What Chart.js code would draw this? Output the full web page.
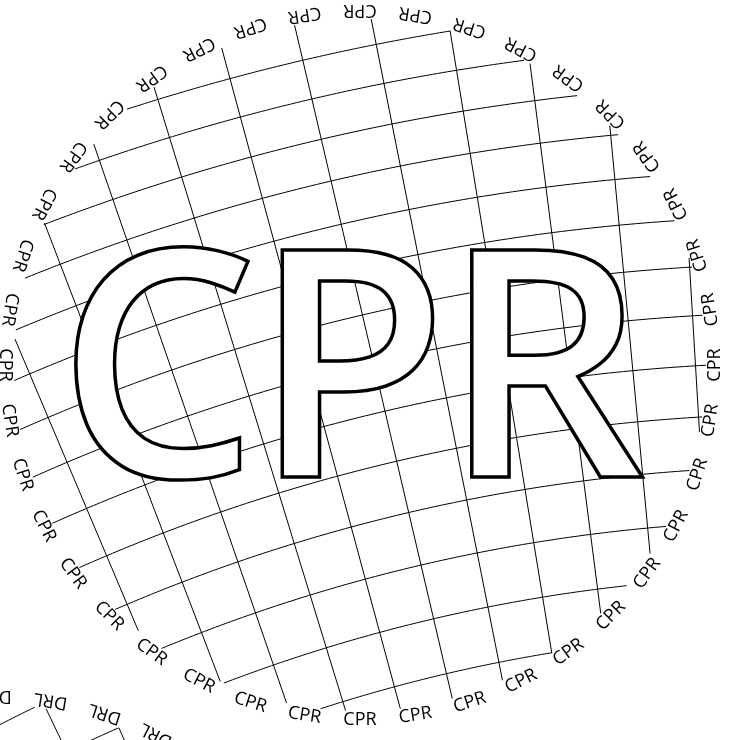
<!DOCTYPE html>
<html>
<head>
<meta charset="utf-8">
<script src="https://cdn.jsdelivr.net/npm/chart.js@4.4.1/dist/chart.umd.min.js"></script>
<style>
  html, body { margin: 0; padding: 0; background: #fff; }
  #wrap { width: 733px; height: 740px; }
</style>
</head>
<body>
<div id="wrap"><canvas id="chart" width="733" height="740"></canvas></div>
<script>
// graticule values (degrees)
const meridians = [1.48, 3.43, 5.38, 7.33, 9.28, 11.23, 13.18, 15.13, 17.08, 19.03, 20.98, 22.93, 24.88, 26.83];
const parallels = [31.78, 33.32, 34.86, 36.40, 37.94, 39.48, 41.02, 42.56, 44.10, 45.64, 47.18, 48.72, 50.26, 51.80, 53.34];
// label ring (degrees, screen angle)
const labelAngles = [0, 9, 18, 27, 36, 45, 54, 63, 72, 81, 90, 99, 108, 117, 126, 135, 144, 153, 162, 171,
                     180, 189, 198, 207, 216, 225, 234, 243, 252, 261, 270, 279, 288, 297, 306, 315, 324, 333, 342, 351];
const panels = ['CPR', 'DRL'];

// layout of each panel (plot units = pixels)
const geo = {
  CPR: { cx: 360, cy: 365, ax: 806, ay: 2209, rot: 0 },
  DRL: { cx: -5, cy: 1051, ax: 797, ay: 2274, rot: 0.75 }
};
const SPHERE = 2641, CLIP_R = 346, LABEL_R = 353.5;
const rad = d => d * Math.PI / 180;

function meridianLine(g, lon) {
  const th = rad(lon + g.rot);
  const ux = -Math.sin(th), uy = -Math.cos(th);
  const wx = g.cx - g.ax, wy = g.cy - g.ay;
  const b = ux * wx + uy * wy;
  const disc = b * b - (wx * wx + wy * wy - CLIP_R * CLIP_R);
  if (disc <= 0) return null;
  const s = Math.sqrt(disc);
  return [b - s, b + s].map(t => ({ x: g.ax + t * ux, y: g.ay + t * uy }));
}

function parallelLine(g, lat) {
  const r = SPHERE * Math.cos(rad(lat));
  const wx = g.cx - g.ax, wy = g.cy - g.ay;
  const d = Math.hypot(wx, wy);
  const c = (r * r + d * d - CLIP_R * CLIP_R) / (2 * r * d);
  if (c >= 1 || c <= -1) return null;
  const beta = Math.atan2(-wx, -wy), del = Math.acos(c);
  const pts = [];
  const n = 90;
  for (let i = 0; i <= n; i++) {
    const th = beta - del + 2 * del * i / n;
    pts.push({ x: g.ax - r * Math.sin(th), y: g.ay - r * Math.cos(th) });
  }
  return pts;
}

const datasets = [];
panels.forEach(name => {
  const g = geo[name];
  meridians.forEach(lon => {
    const d = meridianLine(g, lon);
    if (d) datasets.push({ data: d });
  });
  parallels.forEach(lat => {
    const d = parallelLine(g, lat);
    if (d) datasets.push({ data: d });
  });
});
datasets.forEach(ds => Object.assign(ds, {
  showLine: true, borderColor: '#000', borderWidth: 1, pointRadius: 0, tension: 0, fill: false
}));

const ringPlugin = {
  id: 'ring',
  afterDatasetsDraw(chart) {
    const ctx = chart.ctx, xs = chart.scales.x, ys = chart.scales.y;
    panels.forEach(name => {
      const g = geo[name];
      // big outlined title
      ctx.save();
      ctx.font = '600 318px "Open Sans"';
      ctx.textAlign = 'left';
      ctx.textBaseline = 'alphabetic';
      const tx = xs.getPixelForValue(g.cx - 6), ty = ys.getPixelForValue(g.cy + 112);
      const x0 = tx - ctx.measureText(name).width / 2 + 3;
      ctx.letterSpacing = '-6px';
      ctx.lineWidth = 3.5;
      ctx.lineJoin = 'miter';
      ctx.fillStyle = '#fff';
      ctx.strokeStyle = '#000';
      ctx.fillText(name, x0, ty);
      ctx.strokeText(name, x0, ty);
      ctx.restore();
      // labels around the rim
      ctx.save();
      ctx.font = '18px "Open Sans"';
      ctx.fillStyle = '#000';
      ctx.textAlign = 'center';
      ctx.textBaseline = 'alphabetic';
      labelAngles.forEach(a => {
        const px = xs.getPixelForValue(g.cx + LABEL_R * Math.cos(rad(a)));
        const py = ys.getPixelForValue(g.cy + LABEL_R * Math.sin(rad(a)));
        ctx.save();
        ctx.translate(px, py);
        ctx.rotate(rad(a - 90));
        ctx.fillText(name, 0, 6.4);
        ctx.restore();
      });
      ctx.restore();
    });
  }
};

new Chart(document.getElementById('chart'), {
  type: 'scatter',
  data: { datasets },
  options: {
    responsive: false,
    animation: false,
    devicePixelRatio: 1,
    layout: { padding: 0 },
    plugins: { legend: { display: false }, tooltip: { enabled: false } },
    scales: {
      x: { type: 'linear', min: 0, max: 733, display: false },
      y: { type: 'linear', min: 0, max: 740, reverse: true, display: false }
    }
  },
  plugins: [ringPlugin]
});
</script>
</body>
</html>
